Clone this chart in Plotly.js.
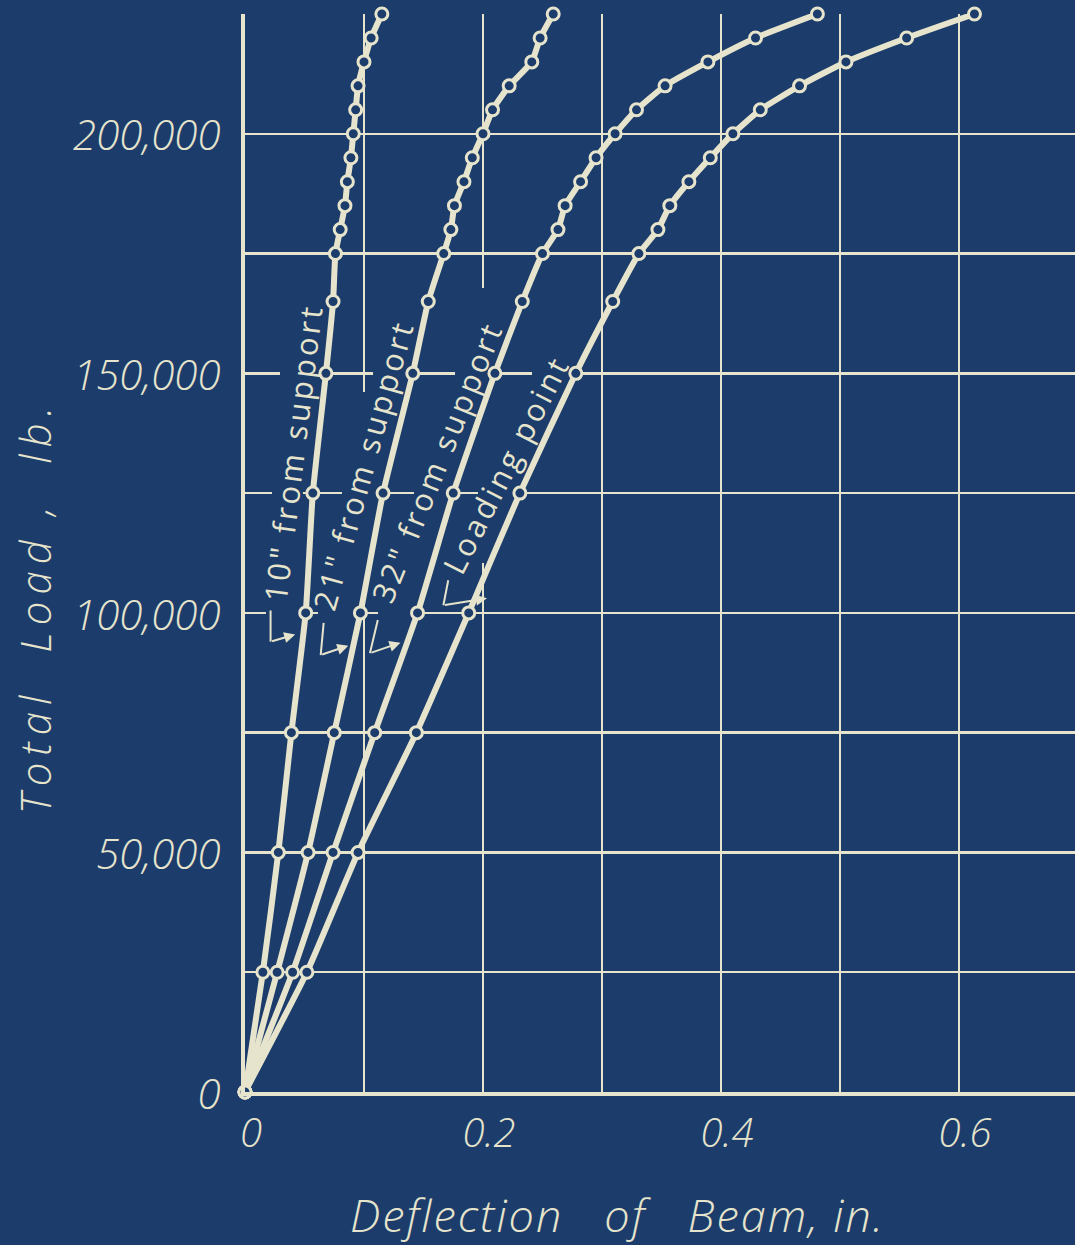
<!DOCTYPE html>
<html>
<head>
<meta charset="utf-8">
<script src="https://cdn.plot.ly/plotly-3.0.1.min.js"></script>
<style>
  html, body { margin: 0; padding: 0; background: #1c3d6b; overflow: hidden; }
  #chart { width: 1090px; height: 1245px; }
</style>
</head>
<body>
<div id="chart"></div>
<script>
// ---- Data ----
const loads = [0, 25000, 50000, 75000, 100000, 125000, 150000, 165000, 175000, 180000,
               185000, 190000, 195000, 200000, 205000, 210000, 215000, 220000, 225000];

const defl10in = [0, 0.015, 0.028, 0.039, 0.051, 0.057, 0.068, 0.074, 0.076, 0.080,
                  0.084, 0.086, 0.089, 0.091, 0.093, 0.095, 0.100, 0.106, 0.115];
const defl21in = [0, 0.027, 0.053, 0.075, 0.097, 0.116, 0.141, 0.154, 0.167, 0.173,
                  0.176, 0.184, 0.191, 0.200, 0.208, 0.222, 0.241, 0.248, 0.259];
const defl32in = [0, 0.040, 0.074, 0.109, 0.145, 0.175, 0.210, 0.233, 0.250, 0.263,
                  0.269, 0.282, 0.295, 0.311, 0.329, 0.353, 0.389, 0.429, 0.481];
const deflLoadPt = [0, 0.052, 0.095, 0.144, 0.188, 0.231, 0.278, 0.309, 0.331, 0.347,
                    0.357, 0.373, 0.391, 0.410, 0.433, 0.466, 0.505, 0.556, 0.613];

const seriesNames = ['10" from support', '21" from support', '32" from support', 'Loading point'];

const xTickVals = [0, 0.1, 0.2, 0.3, 0.4, 0.5, 0.6, 0.7];
const xTickText = ['0', '', '0.2', '', '0.4', '', '0.6', ''];
const yTickVals = [0, 25000, 50000, 75000, 100000, 125000, 150000, 175000, 200000, 225000];
const yTickText = ['0', '', '50,000', '', '100,000', '', '150,000', '', '200,000', ''];

const xTitleWords = ['Deflection', 'of', 'Beam, in.'];
const yTitleWords = ['Total', 'Load', ',', 'lb.'];

// ---- Styling ----
const BG = '#1c3d6b';
const INK = '#e6e4cc';
const FONT = 'Open Sans, DejaVu Sans, sans-serif';
const NB = '\u00a0';
const spaced = (t, px, gap) => '<span style="letter-spacing:' + px + 'px">' +
  t.split(' ').join(NB.repeat(gap)) + '</span>';

const series = [defl10in, defl21in, defl32in, deflLoadPt];
const traces = series.map((xs, i) => ({
  type: 'scatter',
  mode: 'lines+markers',
  name: seriesNames[i],
  x: xs,
  y: loads,
  line: { color: INK, width: 6, shape: 'spline', smoothing: 0.5 },
  marker: { symbol: 'circle', size: 12, color: BG, line: { color: INK, width: 3 } },
  cliponaxis: false,
  showlegend: false,
  hoverinfo: 'x+y'
}));

// Curve labels (rotated, along the curves)
const labelPos = [
  { x: 0.0405, y: 133500, a: -83 },
  { x: 0.0995, y: 131000, a: -74.5 },
  { x: 0.1610, y: 131500, a: -68 },
  { x: 0.2195, y: 131000, a: -63 }
];
const annotations = labelPos.map((p, i) => ({
  x: p.x, y: p.y, xref: 'x', yref: 'y',
  text: spaced(seriesNames[i], 3.2, 1), textangle: p.a, showarrow: false,
  xanchor: 'center', yanchor: 'middle',
  font: { family: FONT, size: 31, color: INK, weight: 400 }
}));

// Axis titles placed as in the drawing
annotations.push({
  xref: 'paper', yref: 'paper', x: -0.252, y: 0.45, xanchor: 'center', yanchor: 'middle',
  textangle: -90, showarrow: false,
  text: '<span style="letter-spacing:7px">' + yTitleWords[0] + NB.repeat(2) + yTitleWords[1] +
        NB + yTitleWords[2] + NB + NB + yTitleWords[3] + '</span>',
  font: { family: FONT, size: 42, color: INK, style: 'italic', weight: 300 }
});
annotations.push({
  xref: 'paper', yref: 'paper', x: 0.4466, y: -0.1135, xanchor: 'center', yanchor: 'middle',
  showarrow: false,
  text: '<span style="letter-spacing:2px">' + xTitleWords.join(NB.repeat(3)) + '</span>',
  font: { family: FONT, size: 45, color: INK, style: 'italic', weight: 300 }
});

// Leader arrows "L->" pointing at each curve
const leaders = [
  { top: [0.0215, 100500], corner: [0.0215, 94000], head: [0.0438, 95600] },
  { top: [0.0661, 97900], corner: [0.0636, 91200], head: [0.0884, 93300] },
  { top: [0.1116, 98500], corner: [0.1050, 91600], head: [0.1322, 93900] },
  { top: [0.1708, 106800], corner: [0.1667, 101600], head: [0.2050, 103100] }
];
const shapes = [];
leaders.forEach(l => {
  shapes.push({ type: 'line', xref: 'x', yref: 'y', x0: l.top[0], y0: l.top[1],
    x1: l.corner[0], y1: l.corner[1], line: { color: INK, width: 2 }, layer: 'above' });
  annotations.push({ x: l.head[0], y: l.head[1], ax: l.corner[0], ay: l.corner[1],
    xref: 'x', yref: 'y', axref: 'x', ayref: 'y', text: '', showarrow: true,
    arrowhead: 2, arrowsize: 1.1, arrowwidth: 2, arrowcolor: INK, standoff: 2 });
});

// Grid gaps left by the draftsman around the lettering
const hGaps = [
  [150000, 0.0294, 0.0647], [150000, 0.1076, 0.1387], [150000, 0.1765, 0.2101], [150000, 0.2412, 0.2798],
  [125000, 0.0227, 0.0487], [125000, 0.0815, 0.1118], [125000, 0.1420, 0.1723], [125000, 0.1958, 0.2294],
  [100000, 0.0176, 0.0462], [100000, 0.0613, 0.0924], [100000, 0.1118, 0.1403]
];
const vGaps = [[0.1, 101600, 146100], [0.2, 110400, 167800]];
hGaps.forEach(g => shapes.push({ type: 'rect', xref: 'x', yref: 'y', layer: 'between',
  x0: g[1], x1: g[2], y0: g[0] - 900, y1: g[0] + 900, fillcolor: BG, line: { width: 0 } }));
vGaps.forEach(g => shapes.push({ type: 'rect', xref: 'x', yref: 'y', layer: 'between',
  x0: g[0] - 0.004, x1: g[0] + 0.004, y0: g[1], y1: g[2], fillcolor: BG, line: { width: 0 } }));

const layout = {
  width: 1090, height: 1245,
  margin: { l: 245, r: 12, t: 14, b: 153 },
  paper_bgcolor: BG, plot_bgcolor: BG,
  font: { family: FONT, color: INK },
  showlegend: false,
  xaxis: {
    range: [0, 0.7], tickvals: xTickVals, ticktext: xTickText,
    showgrid: true, gridcolor: INK, gridwidth: 2.5, zeroline: false,
    showline: true, linecolor: INK, linewidth: 4, ticks: '',
    ticklabelstandoff: 3, ticklabelshift: 6,
    tickfont: { family: FONT, size: 40, color: INK, style: 'italic', weight: 300 }
  },
  yaxis: {
    range: [0, 225000], tickvals: yTickVals, ticktext: yTickText,
    showgrid: true, gridcolor: INK, gridwidth: 2.5, zeroline: false,
    showline: true, linecolor: INK, linewidth: 4, ticks: '',
    ticklabelstandoff: 12, ticklabelshift: 2,
    tickfont: { family: FONT, size: 42, color: INK, style: 'italic', weight: 300 }
  },
  annotations: annotations,
  shapes: shapes
};

Plotly.newPlot('chart', traces, layout, { displayModeBar: false, staticPlot: true });
</script>
</body>
</html>
